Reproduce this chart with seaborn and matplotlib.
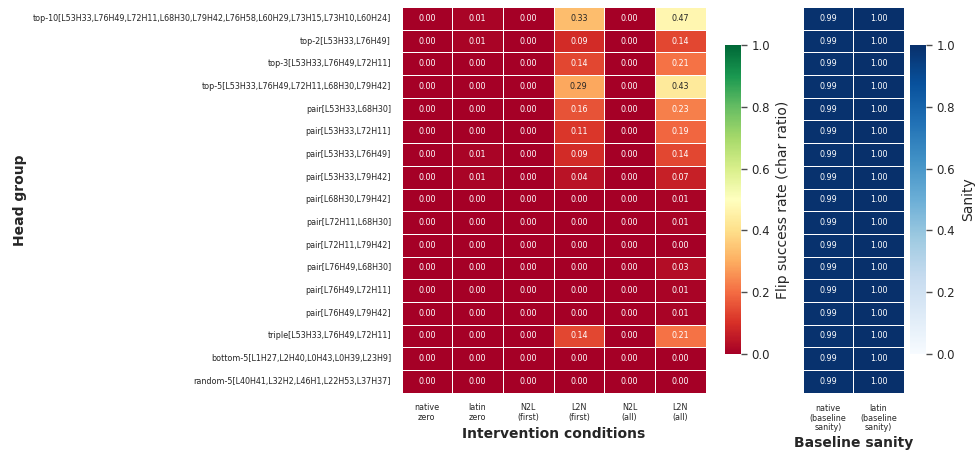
import numpy as np
import pandas as pd
import matplotlib.pyplot as plt
import seaborn as sns

# head groups (rows)
head_groups = [
    "top-10[L53H33,L76H49,L72H11,L68H30,L79H42,L76H58,L60H29,L73H15,L73H10,L60H24]",
    "top-2[L53H33,L76H49]",
    "top-3[L53H33,L76H49,L72H11]",
    "top-5[L53H33,L76H49,L72H11,L68H30,L79H42]",
    "pair[L53H33,L68H30]",
    "pair[L53H33,L72H11]",
    "pair[L53H33,L76H49]",
    "pair[L53H33,L79H42]",
    "pair[L68H30,L79H42]",
    "pair[L72H11,L68H30]",
    "pair[L72H11,L79H42]",
    "pair[L76H49,L68H30]",
    "pair[L76H49,L72H11]",
    "pair[L76H49,L79H42]",
    "triple[L53H33,L76H49,L72H11]",
    "bottom-5[L1H27,L2H40,L0H43,L0H39,L23H9]",
    "random-5[L40H41,L32H2,L46H1,L22H53,L37H37]",
]

conditions = ["native\nzero", "latin\nzero", "N2L\n(first)", "L2N\n(first)", "N2L\n(all)", "L2N\n(all)"]

native_zero = [0.00, 0.00, 0.00, 0.00, 0.00, 0.00, 0.00, 0.00, 0.00, 0.00, 0.00, 0.00, 0.00, 0.00, 0.00, 0.00, 0.00]
latin_zero  = [0.01, 0.01, 0.00, 0.00, 0.00, 0.00, 0.01, 0.01, 0.00, 0.00, 0.00, 0.00, 0.00, 0.00, 0.00, 0.00, 0.00]
n2l_first   = [0.00, 0.00, 0.00, 0.00, 0.00, 0.00, 0.00, 0.00, 0.00, 0.00, 0.00, 0.00, 0.00, 0.00, 0.00, 0.00, 0.00]
l2n_first   = [0.33, 0.09, 0.14, 0.29, 0.16, 0.11, 0.09, 0.04, 0.00, 0.00, 0.00, 0.00, 0.00, 0.00, 0.14, 0.00, 0.00]
n2l_all     = [0.00, 0.00, 0.00, 0.00, 0.00, 0.00, 0.00, 0.00, 0.00, 0.00, 0.00, 0.00, 0.00, 0.00, 0.00, 0.00, 0.00]
l2n_all     = [0.47, 0.14, 0.21, 0.43, 0.23, 0.19, 0.14, 0.07, 0.01, 0.01, 0.00, 0.03, 0.01, 0.01, 0.21, 0.00, 0.00]

sanity_cols = ["native\n(baseline\nsanity)", "latin\n(baseline\nsanity)"]
native_sanity = [0.99, 0.99, 0.99, 0.99, 0.99, 0.99, 0.99, 0.99, 0.99, 0.99, 0.99, 0.99, 0.99, 0.99, 0.99, 0.99, 0.99]
latin_sanity  = [1.00, 1.00, 1.00, 1.00, 1.00, 1.00, 1.00, 1.00, 1.00, 1.00, 1.00, 1.00, 1.00, 1.00, 1.00, 1.00, 1.00]

flip_df = pd.DataFrame(
    np.column_stack([native_zero, latin_zero, n2l_first, l2n_first, n2l_all, l2n_all]),
    index=head_groups, columns=conditions)
sanity_df = pd.DataFrame(
    np.column_stack([native_sanity, latin_sanity]),
    index=head_groups, columns=sanity_cols)

sns.set_theme(style="white")

fig = plt.figure(figsize=(9.75, 4.5), dpi=100)
ax_main = fig.add_axes([0.4118, 0.1274, 0.3118, 0.8570])
cax1 = fig.add_axes([0.7436, 0.2133, 0.0162, 0.6867])
ax_sane = fig.add_axes([0.8233, 0.1274, 0.1037, 0.8570])
cax2 = fig.add_axes([0.9333, 0.2133, 0.0162, 0.6867])

small = 5.75

sns.heatmap(flip_df, ax=ax_main, cmap="RdYlGn", vmin=0, vmax=1,
            annot=True, fmt=".2f", annot_kws={"size": small},
            linewidths=0.5, linecolor="white",
            cbar_ax=cax1, cbar_kws={"label": "Flip success rate (char ratio)"})
ax_main.set_xlabel("Intervention conditions", fontsize=10, fontweight="bold", labelpad=3)
ax_main.set_ylabel("Head group", fontsize=10, fontweight="bold")
ax_main.tick_params(axis="both", labelsize=small, length=0, pad=7.5)
plt.setp(ax_main.get_xticklabels(), rotation=0)
plt.setp(ax_main.get_yticklabels(), rotation=0)

sns.heatmap(sanity_df, ax=ax_sane, cmap="Blues", vmin=0, vmax=1,
            annot=True, fmt=".2f", annot_kws={"size": small},
            linewidths=0.5, linecolor="white",
            cbar_ax=cax2, cbar_kws={"label": "Sanity"})
ax_sane.set_yticks([])
ax_sane.set_ylabel("")
ax_sane.set_xlabel("Baseline sanity", fontsize=10, fontweight="bold", labelpad=3)
ax_sane.tick_params(axis="x", labelsize=small, length=0, pad=8.5)
for t in ax_sane.get_xticklabels():
    t.set_rotation(0)
    t.set_linespacing(1.05)

for cax in (cax1, cax2):
    cax.tick_params(labelsize=8.5, length=4.3, width=1, pad=3.5, color=".3")
    cax.yaxis.label.set_size(10)

fig.savefig("out.png", dpi=100)
plt.close()
